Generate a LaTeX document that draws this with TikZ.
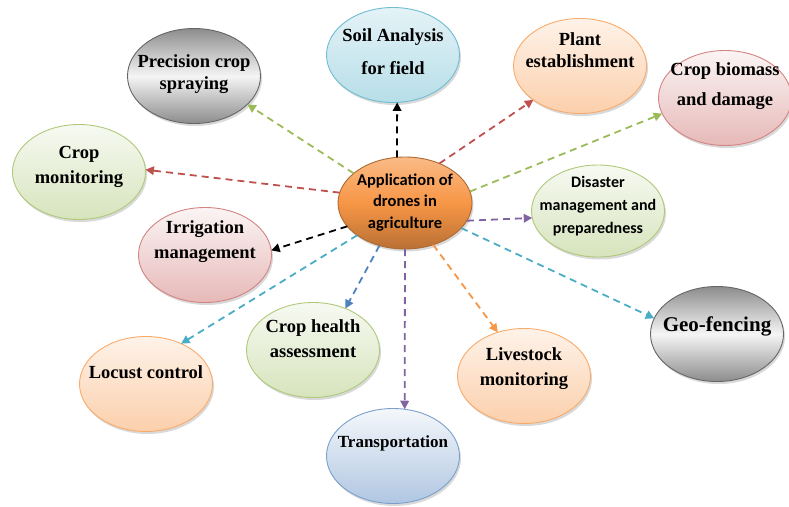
\documentclass[tikz,border=0pt]{standalone}
\usepackage{fontspec}
\setmainfont{Liberation Serif}
\newfontfamily\calib{Carlito}
\usetikzlibrary{shapes.geometric,arrows.meta,shadows}

\definecolor{blu}{HTML}{4F81BD}
\definecolor{rd}{HTML}{C0504D}
\definecolor{grn}{HTML}{9BBB59}
\definecolor{purp}{HTML}{8064A2}
\definecolor{aq}{HTML}{4BACC6}
\definecolor{orng}{HTML}{F79646}

\newcommand{\ovtext}[2]{\makebox[0pt]{\raisebox{#1}[0pt][0pt]{\begin{tabular}{@{}c@{}}#2\end{tabular}}}}

\tikzset{
  oval/.style={ellipse, minimum width=133pt, minimum height=95pt, inner sep=0pt, outer sep=0pt,
    line width=0.9pt, font=\bfseries\fontsize{18.5}{25}\selectfont,
    drop shadow={shadow xshift=1.5pt, shadow yshift=-2.5pt, opacity=0.3}},
  ovgray/.style={oval, draw=black!60, top color=black!45, bottom color=black!45, middle color=black!4},
  ovblue/.style={oval, draw=blu!75, top color=blu!6!white, bottom color=blu!45!white},
  ovred/.style={oval, draw=rd!70, top color=rd!6!white, bottom color=rd!40!white},
  ovgreen/.style={oval, draw=grn!80, top color=grn!8!white, bottom color=grn!40!white},
  ovaqua/.style={oval, draw=aq!80, top color=aq!15!white, bottom color=aq!40!white},
  ovorange/.style={oval, draw=orng!80, top color=orng!12!white, bottom color=orng!45!white},
  ovmain/.style={oval, minimum width=134pt, minimum height=92pt, draw=orng!70!black,
    top color=orng!65!white, bottom color=orng!75!black, middle color=orng,
    font=\calib\bfseries\fontsize{16.5}{21.5}\selectfont},
  link/.style={dash pattern=on 7pt off 5pt, line width=1.8pt, -{Triangle[length=8.5pt,width=8.5pt]}}
}

\begin{document}
\begin{tikzpicture}[x=1pt,y=-1pt]
\useasboundingbox (0,0) rectangle (789,506);

\node[ovmain] (app) at (405,203) {\ovtext{-4pt}{Application of\\drones in\\agriculture}};
\node[ovaqua] (soil) at (393,55) {\ovtext{-2pt}{Soil Analysis\\[8pt]for field}};
\node[ovgray] (prec) at (194,76) {\ovtext{-2pt}{Precision crop\\[-3pt]spraying}};
\node[ovorange] (plant) at (580,66) {\ovtext{10pt}{Plant\\[-3pt]establishment}};
\node[ovred] (biomass) at (725,98) {\ovtext{8pt}{Crop biomass\\[5pt]and damage}};
\node[ovgreen] (cropmon) at (79,172) {\ovtext{2pt}{Crop\\monitoring}};
\node[ovgreen, minimum height=92pt, font=\calib\bfseries\fontsize{16}{23}\selectfont] (disaster) at (598,211)
  {\ovtext{1pt}{Disaster\\management and\\preparedness}};
\node[ovred] (irrig) at (205,255) {\ovtext{10pt}{Irrigation\\management}};
\node[ovgray, font=\bfseries\fontsize{21}{25}\selectfont] (geo) at (717,334) {\ovtext{2pt}{Geo-fencing}};
\node[ovgreen] (health) at (313,350) {\ovtext{6pt}{Crop health\\assessment}};
\node[ovorange] (locust) at (146,384) {\ovtext{6pt}{Locust control}};
\node[ovorange] (livestock) at (524,376) {\ovtext{4pt}{Livestock\\monitoring}};
\node[ovblue, font=\bfseries\fontsize{17}{25}\selectfont] (transport) at (393,456) {\ovtext{9pt}{Transportation}};

\draw[link] (app.100) -- (soil.275);
\draw[link, grn] (app.150) -- (prec.332);
\draw[link, rd] (app.49) -- (plant.216);
\draw[link, grn] (app.10) -- (biomass.194);
\draw[link, rd] (app.171) -- (cropmon.2);
\draw[link, purp] (app.344) -- (disaster.186);
\draw[link] (app.202) -- (irrig.4);
\draw[link, aq] (app.336) -- (geo.166);
\draw[link, aq] (app.214) -- (locust.49);
\draw[link, blu] (app.239) -- (health.52);
\draw[link, purp] (app.270) -- (transport.76);
\draw[link, orng] (app.304) -- (livestock.121);
\end{tikzpicture}
\end{document}
